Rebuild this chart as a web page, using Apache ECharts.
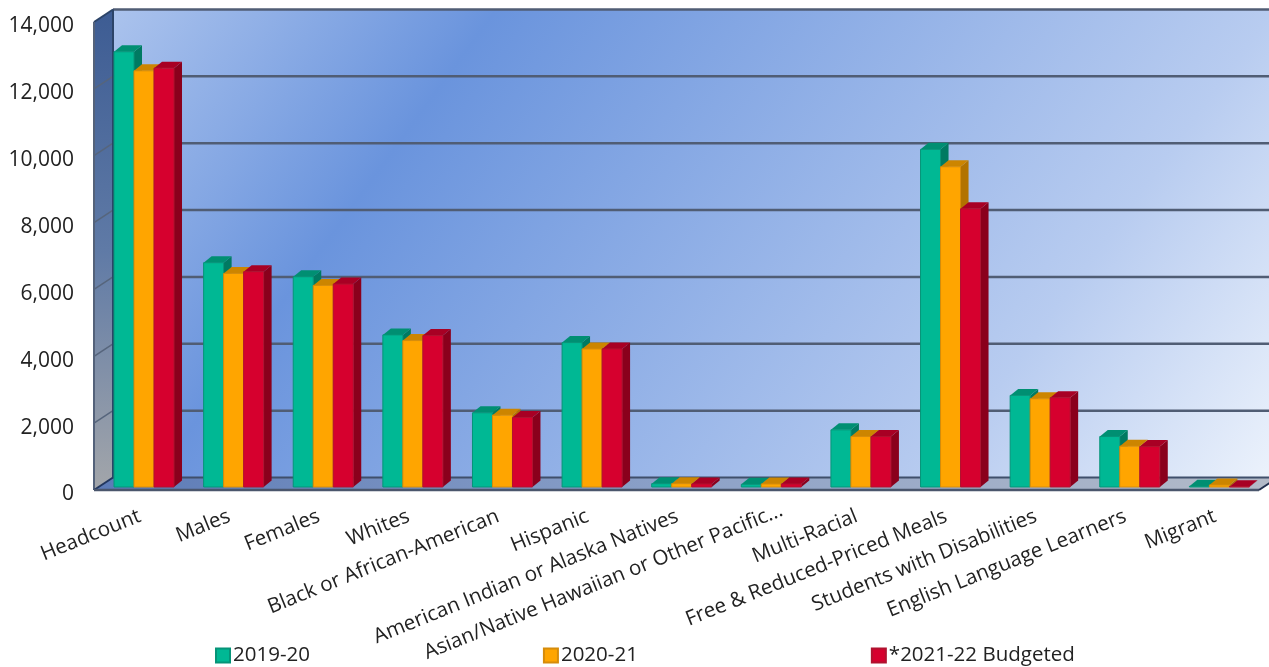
<!DOCTYPE html>
<html><head><meta charset="utf-8">
<style>html,body{margin:0;padding:0;background:#fff;overflow:hidden}#c{width:1269px;height:667px}</style>
<script src="https://cdn.jsdelivr.net/npm/echarts@6/dist/echarts.min.js"></script>
</head><body><div id="c"></div>
<script>
const categories = ['Headcount','Males','Females','Whites','Black or African-American','Hispanic','American Indian or Alaska Natives','Asian/Native Hawaiian or Other Pacific...','Multi-Racial','Free & Reduced-Priced Meals','Students with Disabilities','English Language Learners','Migrant'];
const values2019 = [13020,6710,6290,4550,2220,4320,100,80,1710,10100,2740,1510,20];
const values2020 = [12450,6390,6030,4380,2150,4130,100,90,1510,9580,2640,1220,60];
const values2021 = [12530,6440,6070,4530,2080,4130,90,90,1510,8320,2670,1210,10];
const seriesNames = ['2019-20','2020-21','*2021-22 Budgeted'];
const yTicks = [0,2000,4000,6000,8000,10000,12000,14000];

const palette = [
  {front:'#00b894',top:'#008f72',side:'#007a62',edge:'#069478'},
  {front:'#ffa500',top:'#cc8500',side:'#b27300',edge:'#d68c0a'},
  {front:'#d6002e',top:'#a80024',side:'#8a001c',edge:'#b0122f'}
];
const DX=19, DY=-12.5, BDX=8, BDY=-6.5, BW=20, SHIFT_X=5.2, SHIFT_Y=-3;
const chart = echarts.init(document.getElementById('c'),null,{renderer:'canvas'});

function poly(points,fill,stroke,lw){
  return {type:'polygon',shape:{points},style:{fill,stroke:stroke||null,lineWidth:lw||0}};
}
function line(a,b,stroke,lw){
  return {type:'line',shape:{x1:a[0],y1:a[1],x2:b[0],y2:b[1]},style:{stroke,lineWidth:lw}};
}
function renderWalls(params,api){
  const n=categories.length;
  const fl=api.coord([0,0]), step=api.size([1,0])[0];
  const x0=fl[0]-step/2, x1=x0+n*step, y0=fl[1], yT=api.coord([0,14000])[1];
  const bk=(x,y)=>[x+DX,y+DY];
  const a=[x0,y0],b=[x1,y0],tl=[x0,yT];
  const gx1=bk(x0,yT), nx=0.808, ny=0.59, len=(x1+DX-gx1[0])*nx+(y0-yT)*ny;
  const backFill={type:'linear',global:true,x:gx1[0],y:gx1[1],x2:gx1[0]+len*nx,y2:gx1[1]+len*ny,
    colorStops:[{offset:0,color:'#abc3ed'},{offset:0.254,color:'#6a94dd'},{offset:0.77,color:'#b8ccf0'},{offset:1,color:'#edf3fc'}]};
  const leftFill={type:'linear',x:0,y:0,x2:0,y2:1,colorStops:[{offset:0,color:'#3d5c93'},{offset:0.5,color:'#5f7aa6'},{offset:1,color:'#a3a6aa'}]};
  const floorFill={type:'linear',x:0,y:0,x2:1,y2:0,colorStops:[{offset:0,color:'#5b7ab6'},{offset:0.5,color:'#8da2c8'},{offset:1,color:'#b4bbc8'}]};
  const ch=[
    poly([bk(x0,yT),bk(x1,yT),bk(x1,y0),bk(x0,y0)],backFill),
    poly([a,tl,bk(x0,yT),bk(x0,y0)],leftFill),
    poly([a,b,bk(x1,y0),bk(x0,y0)],floorFill)
  ];
  yTicks.forEach(t=>{
    const y=api.coord([0,t])[1];
    if(t>0&&t<14000) ch.push(line([x0,y],bk(x0,y),'#56657c',1.5));
    if(t>0) ch.push(line(bk(x0,y),bk(x1,y),'#505d74',2.5));
  });
  ch.push(line(bk(x0,y0),bk(x1,y0),'#3f4f6b',2));
  ch.push(line(bk(x0,yT),bk(x0,y0),'#2c4468',2));
  ch.push(line(tl,bk(x0,yT),'#2c4468',2));
  ch.push(line(tl,a,'#54627a',2));
  ch.push(line(a,bk(x0,y0),'#22375f',2));
  ch.push(line(a,b,'#4a566c',2.5));
  ch.push(line(b,bk(x1,y0),'#22304f',2));
  return {type:'group',children:ch};
}
function barRenderer(si){
  return function(params,api){
    const i=api.value(0), v=api.value(1);
    const top=api.coord([i,v]), base=api.coord([i,0]);
    const xl=top[0]+SHIFT_X-1.5*BW+si*BW, xr=xl+BW;
    const yt=top[1]+SHIFT_Y, yb=base[1]+SHIFT_Y;
    const c=palette[si];
    return {type:'group',children:[
      poly([[xr,yt],[xr+BDX,yt+BDY],[xr+BDX,yb+BDY],[xr,yb]],c.side),
      poly([[xl,yt],[xl+BDX,yt+BDY],[xr+BDX,yt+BDY],[xr,yt]],c.top),
      poly([[xl,yt],[xr,yt],[xr,yb],[xl,yb]],c.front,c.edge,1)
    ]};
  };
}
const bars=[values2019,values2020,values2021].map((vals,si)=>({
  name:seriesNames[si],type:'custom',z:3+si,silent:true,
  renderItem:barRenderer(si),
  encode:{x:0,y:1},
  itemStyle:{color:palette[si].front,borderColor:palette[si].edge,borderWidth:1},
  data:vals.map((v,i)=>[i,v])
}));
const FONT='"Open Sans"';
const catData=categories.map(c=>c.endsWith('...')?{value:c,textStyle:{padding:[0,-17,0,0]}}:c);
chart.setOption({
  animation:false,
  textStyle:{fontFamily:FONT},
  grid:{left:94,right:10,top:22,bottom:177,containLabel:false},
  legend:{data:seriesNames,left:215,top:645,padding:0,itemWidth:14,itemHeight:14,itemGap:233,icon:'rect',
    textStyle:{fontFamily:FONT,fontSize:20.5,color:'#222',padding:[0,0,0,-2]}},
  xAxis:{type:'category',data:catData,
    axisLine:{show:false},axisTick:{show:false},splitLine:{show:false},
    axisLabel:{interval:0,rotate:22,margin:26,padding:[0,-1,0,0],fontFamily:FONT,fontSize:20.6,color:'#222'}},
  yAxis:{type:'value',min:0,max:14000,interval:2000,
    axisLine:{show:false},axisTick:{show:false},splitLine:{show:false},
    axisLabel:{margin:20,verticalAlign:'top',padding:[-6,0,0,0],fontFamily:FONT,fontSize:21,color:'#222',formatter:v=>v.toLocaleString('en-US')}},
  series:[{name:'walls',type:'custom',z:1,silent:true,renderItem:renderWalls,data:[[0,0]],encode:{x:0,y:1}}].concat(bars)
});
</script></body></html>
